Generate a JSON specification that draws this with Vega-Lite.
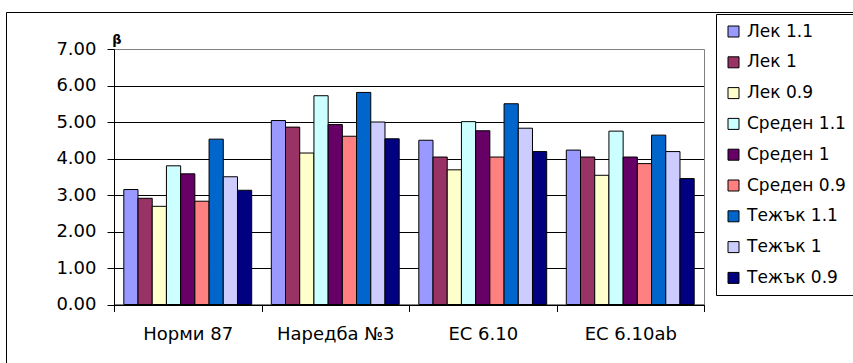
{
  "$schema": "https://vega.github.io/schema/vega-lite/v6.json",
  "width": 849,
  "height": 353,
  "autosize": "none",
  "padding": {"left": 6, "top": 12, "right": -2, "bottom": -2},
  "background": "white",
  "config": {
    "view": {"stroke": "black", "strokeWidth": 1},
    "font": "DejaVu Sans",
    "axis": {
      "labelFont": "DejaVu Sans",
      "labelColor": "black",
      "domainColor": "black",
      "tickColor": "black",
      "titleColor": "black"
    }
  },
  "data": {
    "values": [
      {"norm": "Норми 87", "series": "Лек 1.1", "beta": 3.15},
      {"norm": "Норми 87", "series": "Лек 1", "beta": 2.91},
      {"norm": "Норми 87", "series": "Лек 0.9", "beta": 2.69},
      {"norm": "Норми 87", "series": "Среден 1.1", "beta": 3.80},
      {"norm": "Норми 87", "series": "Среден 1", "beta": 3.58},
      {"norm": "Норми 87", "series": "Среден 0.9", "beta": 2.83},
      {"norm": "Норми 87", "series": "Тежък 1.1", "beta": 4.53},
      {"norm": "Норми 87", "series": "Тежък 1", "beta": 3.50},
      {"norm": "Норми 87", "series": "Тежък 0.9", "beta": 3.13},
      {"norm": "Наредба №3", "series": "Лек 1.1", "beta": 5.04},
      {"norm": "Наредба №3", "series": "Лек 1", "beta": 4.86},
      {"norm": "Наредба №3", "series": "Лек 0.9", "beta": 4.15},
      {"norm": "Наредба №3", "series": "Среден 1.1", "beta": 5.72},
      {"norm": "Наредба №3", "series": "Среден 1", "beta": 4.93},
      {"norm": "Наредба №3", "series": "Среден 0.9", "beta": 4.61},
      {"norm": "Наредба №3", "series": "Тежък 1.1", "beta": 5.81},
      {"norm": "Наредба №3", "series": "Тежък 1", "beta": 5.00},
      {"norm": "Наредба №3", "series": "Тежък 0.9", "beta": 4.54},
      {"norm": "ЕС 6.10", "series": "Лек 1.1", "beta": 4.50},
      {"norm": "ЕС 6.10", "series": "Лек 1", "beta": 4.04},
      {"norm": "ЕС 6.10", "series": "Лек 0.9", "beta": 3.69},
      {"norm": "ЕС 6.10", "series": "Среден 1.1", "beta": 5.01},
      {"norm": "ЕС 6.10", "series": "Среден 1", "beta": 4.76},
      {"norm": "ЕС 6.10", "series": "Среден 0.9", "beta": 4.04},
      {"norm": "ЕС 6.10", "series": "Тежък 1.1", "beta": 5.50},
      {"norm": "ЕС 6.10", "series": "Тежък 1", "beta": 4.83},
      {"norm": "ЕС 6.10", "series": "Тежък 0.9", "beta": 4.19},
      {"norm": "ЕС 6.10ab", "series": "Лек 1.1", "beta": 4.23},
      {"norm": "ЕС 6.10ab", "series": "Лек 1", "beta": 4.04},
      {"norm": "ЕС 6.10ab", "series": "Лек 0.9", "beta": 3.54},
      {"norm": "ЕС 6.10ab", "series": "Среден 1.1", "beta": 4.75},
      {"norm": "ЕС 6.10ab", "series": "Среден 1", "beta": 4.04},
      {"norm": "ЕС 6.10ab", "series": "Среден 0.9", "beta": 3.86},
      {"norm": "ЕС 6.10ab", "series": "Тежък 1.1", "beta": 4.64},
      {"norm": "ЕС 6.10ab", "series": "Тежък 1", "beta": 4.19},
      {"norm": "ЕС 6.10ab", "series": "Тежък 0.9", "beta": 3.45}
    ]
  },
  "layer": [
    {
      "mark": {"type": "bar", "stroke": "black", "strokeWidth": 1},
      "encoding": {
        "x": {
          "field": "norm",
          "type": "nominal",
          "sort": ["Норми 87", "Наредба №3", "ЕС 6.10", "ЕС 6.10ab"],
          "scale": {"range": [108, 698], "paddingInner": 0, "paddingOuter": 0},
          "axis": {
            "title": null,
            "orient": "bottom",
            "offset": -60.5,
            "tickBand": "extent",
            "tickSize": 7,
            "labelFontSize": 18,
            "labelPadding": 14,
            "labelAngle": 0,
            "domainColor": "black"
          }
        },
        "xOffset": {
          "field": "series",
          "type": "nominal",
          "scale": {
            "domain": ["Лек 1.1", "Лек 1", "Лек 0.9", "Среден 1.1", "Среден 1", "Среден 0.9", "Тежък 1.1", "Тежък 1", "Тежък 0.9"],
            "paddingInner": 0,
            "paddingOuter": 0.69
          }
        },
        "y": {
          "field": "beta",
          "type": "quantitative",
          "scale": {"domain": [0, 7], "range": [292.5, 37], "nice": false, "zero": true},
          "axis": {
            "title": "β",
            "titleAngle": 0,
            "titleAlign": "center",
            "titleBaseline": "alphabetic",
            "titleX": 2.5,
            "titleY": 31,
            "titleFontSize": 13,
            "titleFontWeight": "bold",
            "titleFont": "DejaVu Sans",
            "offset": -108,
            "values": [0, 1, 2, 3, 4, 5, 6, 7],
            "format": ".2f",
            "tickSize": 7,
            "labelFontSize": 18,
            "labelPadding": 11,
            "grid": true,
            "gridColor": {"condition": {"test": "datum.value === 7", "value": "#808080"}, "value": "#000000"},
            "gridWidth": 1
          }
        },
        "color": {
          "field": "series",
          "type": "nominal",
          "scale": {
            "domain": ["Лек 1.1", "Лек 1", "Лек 0.9", "Среден 1.1", "Среден 1", "Среден 0.9", "Тежък 1.1", "Тежък 1", "Тежък 0.9"],
            "range": ["#9999FF", "#993366", "#FFFFCC", "#CCFFFF", "#660066", "#FF8080", "#0066CC", "#CCCCFF", "#000080"]
          },
          "legend": {
            "title": null,
            "orient": "none",
            "legendX": 710,
            "legendY": 2,
            "padding": 9,
            "strokeColor": "black",
            "fillColor": "white",
            "symbolType": "square",
            "symbolSize": 121,
            "symbolStrokeColor": "black",
            "symbolStrokeWidth": 1,
            "labelFont": "DejaVu Sans",
            "labelFontSize": 17,
            "labelColor": "black",
            "labelOffset": 5,
            "rowPadding": 12.8,
            "labelLimit": 300
          }
        }
      }
    },
    {
      "mark": {"type": "point", "opacity": 0},
      "encoding": {
        "y": {
          "field": "beta",
          "type": "quantitative",
          "axis": {
            "orient": "right",
            "offset": -151,
            "title": null,
            "labels": false,
            "ticks": false,
            "grid": false,
            "domainColor": "#808080"
          }
        }
      }
    }
  ],
  "resolve": {"axis": {"y": "independent"}}
}
